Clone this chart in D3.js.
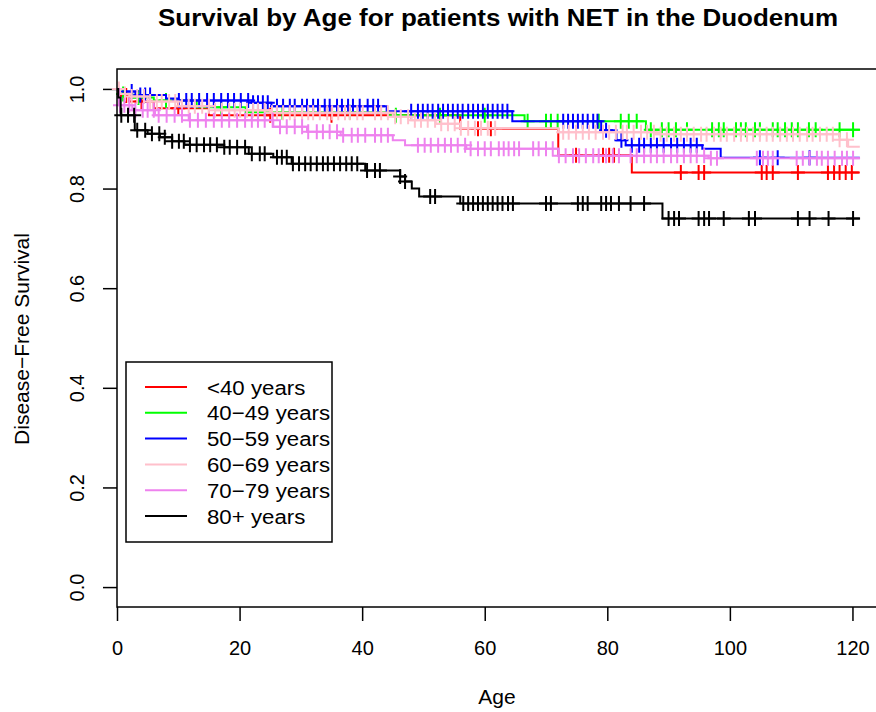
<!DOCTYPE html>
<html>
<head>
<meta charset="utf-8">
<script src="https://cdn.jsdelivr.net/npm/d3@7"></script>
<style>
    body { margin: 0; background: #fff; }
    svg { display: block; font-family: 'Liberation Sans', Arial, sans-serif; }
</style>
</head>
<body>
<svg id="chart" width="876" height="712"></svg>
<script>
// group labels + R colours
const groups = ['<40 years', '40\u221249 years', '50\u221259 years', '60\u221269 years', '70\u221279 years', '80+ years'];
const colors = ['#FF0000', '#00FF00', '#0000FF', '#FFC0CB', '#EE82EE', '#000000'];

const xTicks = [0, 20, 40, 60, 80, 100, 120];
const yTicks = [0, 0.2, 0.4, 0.6, 0.8, 1.0];

// step curves (time, survival)
const redTimes = [0, 0.3, 2, 6, 15, 56, 72, 84, 121.2];
const redSurv = [1, 0.987, 0.975, 0.961, 0.947, 0.92, 0.867, 0.832, 0.832];
const redCensor = [1.5, 4, 10, 25, 35, 58.9, 61, 74.9, 79.3, 80.3, 81.1, 92, 94.9, 95.8, 105.2, 106, 107, 111.1, 116, 117, 117.9, 118.9, 119.9];

const greenTimes = [0, 0.5, 2.5, 6, 13, 21, 45, 66.5, 86.3, 121.2];
const greenSurv = [1, 0.99, 0.983, 0.977, 0.963, 0.953, 0.947, 0.935, 0.918, 0.918];
const greenCensor = [1, 3.5, 8, 17, 27, 38, 45.5, 52.7, 60, 67.0, 70.0, 70.8, 71.9, 78.6, 82.2, 83.5, 84.8, 87.1, 88.9, 90.0, 91.2, 93.0, 97.1, 98.2, 99.0, 101.0, 101.8, 102.6, 104.1, 104.9, 107.0, 107.8, 109.0, 110.1, 111.1, 112.9, 114.0, 117.9, 120.1];

const blueTimes = [0, 0.5, 3, 8, 10, 22, 25.2, 44, 64.5, 79, 81.5, 83, 95.5, 98.5, 121.2];
const blueSurv = [1, 0.995, 0.988, 0.981, 0.977, 0.972, 0.965, 0.955, 0.935, 0.917, 0.897, 0.887, 0.88, 0.862, 0.862];
const blueCensor = [2.4, 3.8, 4.6, 5.4, 10.1, 11.3, 12.2, 13.4, 14.7, 15.8, 17.0, 18.1, 19.1, 20.2, 21.4, 22.2, 23.0, 23.8, 24.6, 26.1, 27.1, 28.2, 29.0, 30.2, 31.0, 32.0, 32.8, 33.9, 34.7, 35.9, 36.7, 37.7, 38.5, 39.6, 40.9, 41.8, 42.6, 48.0, 49.1, 49.9, 50.7, 51.5, 52.4, 53.2, 54.0, 54.8, 55.6, 56.4, 57.3, 58.1, 58.9, 59.7, 60.5, 61.3, 62.1, 62.9, 63.7, 72.8, 73.6, 74.4, 75.2, 76.0, 76.8, 77.7, 78.4, 79.8, 82.3, 84.0, 85.2, 86.0, 87.1, 88.1, 89.2, 90.4, 91.4, 92.5, 93.6, 94.6, 104.9, 107.8, 113.0];

const pinkTimes = [0, 0.5, 2, 5, 10, 16, 25, 45, 48, 52, 56, 72, 88, 117.9, 119.3, 121.2];
const pinkSurv = [1, 0.99, 0.985, 0.975, 0.965, 0.957, 0.952, 0.944, 0.937, 0.93, 0.921, 0.913, 0.909, 0.898, 0.884, 0.884];
const pinkCensor = [0.3, 1.3, 2.4, 3.3, 4.4, 5.4, 6.5, 7.3, 8.5, 9.5, 10.6, 11.7, 12.7, 13.9, 15.0, 16.0, 17.1, 18.3, 19.2, 20.1, 21.2, 22.2, 23.0, 24.1, 25.3, 26.1, 27.1, 28.2, 29.0, 30.2, 31.2, 32.0, 33.1, 34.3, 35.1, 36.1, 37.2, 38.0, 39.2, 40.1, 42.1, 43.1, 44.2, 45.4, 46.3, 47.5, 48.6, 49.6, 50.7, 51.9, 52.9, 54.0, 55.1, 56.1, 57.3, 58.4, 59.4, 60.5, 61.7, 72.8, 73.7, 74.9, 76.0, 77.0, 78.1, 79.3, 80.3, 81.4, 82.5, 83.2, 84.3, 85.5, 86.5, 87.6, 88.7, 89.7, 90.9, 92.0, 93.0, 94.1, 95.3, 96.2, 97.4, 98.5, 99.5, 100.7, 101.8, 102.8, 103.8, 104.9, 106.0, 107.0, 108.2, 109.3, 110.3, 111.4, 112.6, 113.5, 114.7, 115.8, 116.8, 117.9, 119.1];

const violetTimes = [0, 0.3, 2.5, 6.2, 11.7, 25.5, 31, 36.5, 45, 47, 57, 72, 96.5, 121.2];
const violetSurv = [1, 0.967, 0.957, 0.947, 0.937, 0.924, 0.914, 0.907, 0.897, 0.887, 0.88, 0.866, 0.861, 0.861];
const violetCensor = [0.5, 1.2, 2.0, 3.0, 4.2, 5.0, 6.0, 6.8, 8.1, 9.4, 10.6, 11.9, 13.2, 14.5, 15.8, 17.1, 18.3, 19.6, 20.9, 22.0, 23.0, 24.1, 25.4, 26.6, 27.7, 29.0, 30.2, 31.2, 32.6, 33.6, 34.7, 35.9, 36.9, 38.3, 39.3, 40.5, 42.1, 43.1, 44.2, 49.1, 50.2, 51.2, 52.4, 53.5, 54.5, 55.6, 56.8, 57.7, 58.9, 60.0, 61.0, 62.3, 63.1, 63.9, 64.8, 65.6, 67.9, 68.8, 70.0, 71.1, 72.1, 73.2, 74.4, 75.4, 76.5, 77.7, 78.6, 79.8, 80.9, 81.9, 83.8, 84.8, 86.0, 87.1, 88.1, 89.2, 90.4, 91.4, 92.5, 93.6, 94.6, 95.8, 96.9, 97.9, 104.4, 105.4, 106.2, 107.0, 110.9, 111.9, 113.0, 114.2, 115.0, 116.0, 117.1, 118.3, 119.1, 120.1];

const blackTimes = [0, 0.2, 0.6, 2.9, 5, 7, 9, 11, 17.5, 21.5, 25.5, 28.5, 40.5, 46.2, 47, 48.1, 49.3, 56, 89, 121.2];
const blackSurv = [1, 0.983, 0.947, 0.917, 0.91, 0.903, 0.895, 0.888, 0.883, 0.87, 0.863, 0.85, 0.836, 0.824, 0.814, 0.8, 0.784, 0.77, 0.74, 0.74];
const blackCensor = [0.7, 1.8, 2.8, 3.3, 4.6, 5.7, 6.9, 7.8, 9.0, 10.1, 10.9, 11.9, 13.0, 14.2, 15.2, 16.3, 17.5, 18.4, 19.6, 20.9, 22.0, 23.3, 24.1, 26.1, 26.9, 27.7, 28.7, 29.7, 30.7, 31.6, 32.6, 33.6, 34.4, 35.4, 36.4, 37.4, 38.3, 39.2, 40.8, 42.1, 42.9, 46.2, 47.0, 51.1, 51.9, 56.5, 57.3, 58.1, 58.9, 59.7, 60.5, 61.3, 62.1, 62.9, 63.8, 64.6, 70.0, 70.8, 75.2, 76.0, 76.8, 79.0, 79.8, 80.6, 81.9, 83.8, 86.0, 90.0, 90.9, 91.7, 94.9, 95.8, 96.6, 99.0, 103.1, 104.1, 111.1, 113.0, 116.1, 120.1];

const series = [
    {times: redTimes, surv: redSurv, censor: redCensor},
    {times: greenTimes, surv: greenSurv, censor: greenCensor},
    {times: blueTimes, surv: blueSurv, censor: blueCensor},
    {times: pinkTimes, surv: pinkSurv, censor: pinkCensor},
    {times: violetTimes, surv: violetSurv, censor: violetCensor},
    {times: blackTimes, surv: blackSurv, censor: blackCensor},
];

const margin = {top: 69, left: 117};
const w = 771, h = 538;
const font = "'Liberation Sans', Arial, sans-serif";

const svg = d3.select('#chart');

const x = d3.scaleLinear().domain([0, 125.8]).range([0, w]);
const y = d3.scaleLinear().domain([-0.04, 1.04]).range([h, 0]);

const g = svg.append('g')
    .attr('transform', 'translate(' + margin.left + ',' + margin.top + ')');

// axes
const gX = g.append('g')
    .attr('transform', 'translate(0,' + h + ')')
    .call(d3.axisBottom(x).tickValues(xTicks).tickSize(14).tickPadding(20));
gX.select('.domain').remove();
gX.selectAll('.tick line').attr('stroke', '#000').attr('stroke-width', 1.5);
gX.selectAll('.tick text').attr('fill', '#000').style('font-size', '20px').style('font-family', font);

const gY = g.append('g')
    .call(d3.axisLeft(y).tickValues(yTicks).tickSize(14).tickFormat(d3.format('.1f')));
gY.select('.domain').remove();
gY.selectAll('.tick line').attr('stroke', '#000').attr('stroke-width', 1.5);
gY.selectAll('.tick text')
    .attr('fill', '#000')
    .attr('transform', 'rotate(-90)')
    .attr('x', 0)
    .attr('y', -33)
    .attr('dy', 0)
    .style('text-anchor', 'middle')
    .style('font-size', '20px')
    .style('font-family', font);

// curves
const line = d3.line()
    .x(d => x(d[0]))
    .y(d => y(d[1]))
    .curve(d3.curveStepAfter);

function survAt(s, t) {
    const i = d3.bisectRight(s.times, t) - 1;
    return s.surv[Math.max(0, i)];
}

series.forEach((s, k) => {
    const pts = s.times.map((t, i) => [t, s.surv[i]]);
    g.append('path')
        .attr('d', line(pts))
        .attr('fill', 'none')
        .attr('stroke', colors[k])
        .attr('stroke-width', 2);

    g.append('path')
        .attr('d', s.censor.map(t => {
            const cx = x(t), cy = y(survAt(s, t));
            return 'M' + (cx - 7) + ',' + cy + 'h14M' + cx + ',' + (cy - 7.5) + 'v15';
        }).join(''))
        .attr('fill', 'none')
        .attr('stroke', colors[k])
        .attr('stroke-width', 2);
});

// plot box
g.append('rect')
    .attr('width', w)
    .attr('height', h)
    .attr('fill', 'none')
    .attr('stroke', '#000')
    .attr('stroke-width', 1.5);

// legend
const legend = svg.append('g').attr('transform', 'translate(126,362)');
legend.append('rect')
    .attr('width', 206)
    .attr('height', 180)
    .attr('fill', '#fff')
    .attr('stroke', '#000')
    .attr('stroke-width', 1.5);
groups.forEach((name, i) => {
    const ly = 25 + i * 25.8;
    legend.append('line')
        .attr('x1', 19).attr('x2', 61)
        .attr('y1', ly).attr('y2', ly)
        .attr('stroke', colors[i])
        .attr('stroke-width', 2);
    legend.append('text')
        .attr('transform', 'translate(81,' + (ly + 7.5) + ') scale(1.06,1)')
        .style('font-size', '21px')
        .text(name);
});

// titles
svg.append('text')
    .attr('x', 158).attr('y', 26)
    .attr('textLength', 680)
    .attr('lengthAdjust', 'spacingAndGlyphs')
    .style('font-size', '23px')
    .style('font-weight', 'bold')
    .text('Survival by Age for patients with NET in the Duodenum');

svg.append('text')
    .attr('x', 497).attr('y', 704)
    .attr('text-anchor', 'middle')
    .style('font-size', '21px')
    .text('Age');

svg.append('text')
    .attr('transform', 'translate(29,339) rotate(-90)')
    .attr('text-anchor', 'middle')
    .style('font-size', '21px')
    .text('Disease\u2212Free Survival');
</script>
</body>
</html>
